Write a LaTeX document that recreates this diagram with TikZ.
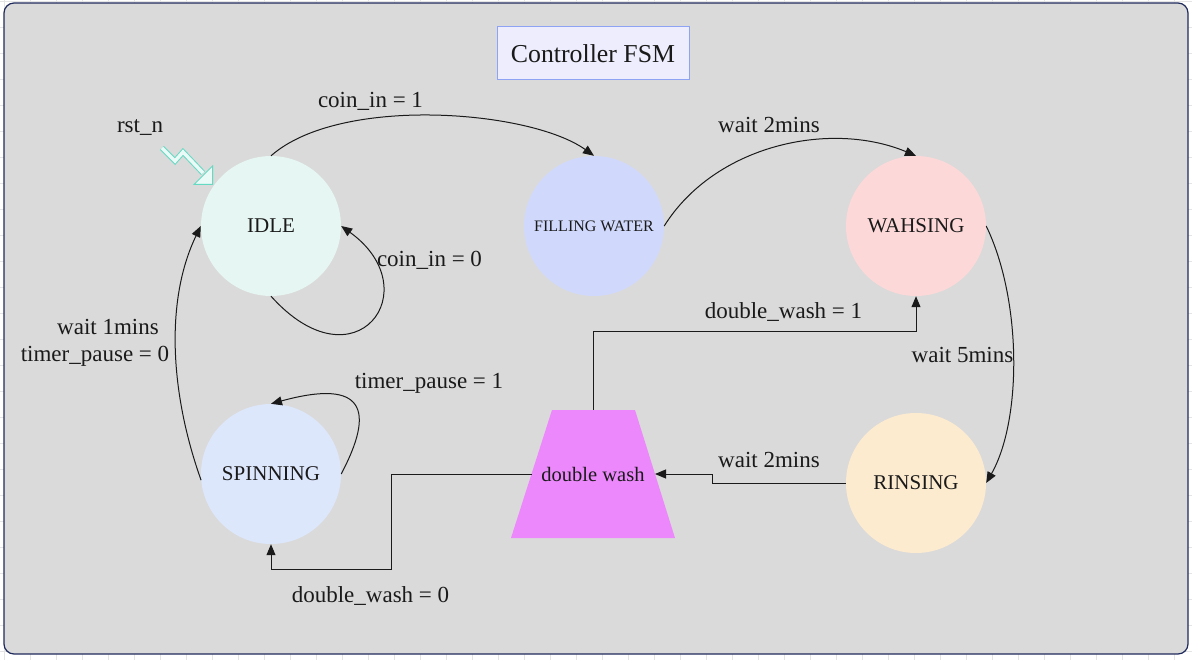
\documentclass[tikz,border=0pt]{standalone}
\usepackage{fontspec}
\setmainfont{Liberation Serif}
\usetikzlibrary{arrows.meta,shapes.geometric}
\definecolor{bgc}{HTML}{DADADA}
\definecolor{framec}{HTML}{1F2A5C}
\definecolor{gridc}{HTML}{E4E4E4}
\definecolor{txt}{HTML}{1A1A1A}
\definecolor{linec}{HTML}{1A1A1A}
\definecolor{idlec}{HTML}{E6F6F2}
\definecolor{fwc}{HTML}{D0D9FC}
\definecolor{washc}{HTML}{FDD8D8}
\definecolor{rinsc}{HTML}{FDEBD0}
\definecolor{spinc}{HTML}{DDE7FC}
\definecolor{dwc}{HTML}{EC88FC}
\definecolor{titlef}{HTML}{EDEDFD}
\definecolor{titleb}{HTML}{8FA3F5}
\definecolor{rstc}{HTML}{66D9C2}
\definecolor{rstf}{HTML}{EAFAF6}
\tikzset{
  statenode/.style={circle, minimum size=140pt, inner sep=0pt, text=txt, font=\fontsize{21}{25}\selectfont},
  lbl/.style={text=txt, font=\fontsize{23}{27}\selectfont, inner sep=0pt},
  conn/.style={draw=linec, line width=1pt, -{Triangle[length=11pt,width=9pt]}},
}
\begin{document}
\begin{tikzpicture}[x=1pt,y=-1pt]
\useasboundingbox (0,0) rectangle (1192,660);
\fill[white] (0,0) rectangle (1192,660);
\foreach \i in {0,...,45} \draw[gridc, line width=0.8pt] (4+26*\i,0) -- (4+26*\i,660);
\foreach \i in {0,...,25} \draw[gridc, line width=0.8pt] (0,1+26*\i) -- (1192,1+26*\i);
\draw[framec, fill=bgc, line width=1.2pt, rounded corners=10pt] (4,3) rectangle (1188,654);

\node[draw=titleb, fill=titlef, line width=1pt, minimum width=192pt, minimum height=53pt, inner sep=0pt, text=txt, font=\fontsize{25.8}{30}\selectfont] (title) at (593,53.5) {Controller FSM};

\node[statenode, fill=idlec] (IDLE) at (271,226) {IDLE};
\node[statenode, fill=fwc, font=\fontsize{16}{19}\selectfont] (FW) at (594,226) {FILLING WATER};
\node[statenode, fill=washc] (WASH) at (916,226) {WAHSING};
\node[statenode, fill=rinsc] (RINS) at (916,483) {RINSING};
\node[statenode, fill=spinc] (SPIN) at (271,474) {SPINNING};

% double wash decision (trapezoid)
\fill[dwc] (552,410) -- (635,410) -- (675,538) -- (511,538) -- cycle;
\node[minimum width=164pt, minimum height=128pt, inner sep=0pt, text=txt,
      font=\fontsize{20.5}{24}\selectfont] (dw) at (593,474) {double wash};
\coordinate (dwE) at (655,474);
\coordinate (dwW) at (531.5,474);

% reset arrow
\draw[rstc, line width=1pt, double=rstf, double distance=3.5pt] (162,148) -- (175,161) -- (183,152) -- (203,173);
\filldraw[draw=rstc, fill=rstf, line width=1pt] (212.5,184.5) -- (212.5,166) -- (194,184.5) -- cycle;
\node[lbl] (rst) at (140,128) {rst\_n};

% connectors
\draw[conn] (IDLE.north) .. controls (340,95) and (530,110) .. (FW.north);
\draw[conn] (FW.east) .. controls (715,145) and (830,120) .. (WASH.north);
\draw[conn] (WASH.east) .. controls (1022,300) and (1022,420) .. (RINS.east);
\draw[conn] (RINS.west) -- ++(-133,0) |- (dwE);
\draw[conn] (dw.north) -- ++(0,-78) -| (WASH.south);
\draw[conn] (dwW) -- ++(-140,0) -- ++(0,95) -| (SPIN.south);
\draw[conn] (SPIN.east) .. controls (375,410) and (365,378) .. (SPIN.north);
\draw[conn] (SPIN.185) .. controls (170,393) and (165,300) .. (IDLE.west);
\draw[conn] (IDLE.south) .. controls (355,390) and (430,290) .. (IDLE.east);

% labels
\node[lbl] (l1) at (370.5,101) {coin\_in = 1};
\node[lbl] (l2) at (769,125) {wait 2mins};
\node[lbl] (l3) at (429.5,260) {coin\_in = 0};
\node[lbl] (l4) at (783.5,312) {double\_wash = 1};
\node[lbl] (l5) at (962.5,355) {wait 5mins};
\node[lbl, align=center] (l6) at (95,342.5) {wait 1mins\hspace*{-26pt}\\timer\_pause = 0};
\node[lbl] (l7) at (429,383) {timer\_pause = 1};
\node[lbl] (l8) at (769,460) {wait 2mins};
\node[lbl] (l9) at (370.5,596) {double\_wash = 0};
\end{tikzpicture}
\end{document}
